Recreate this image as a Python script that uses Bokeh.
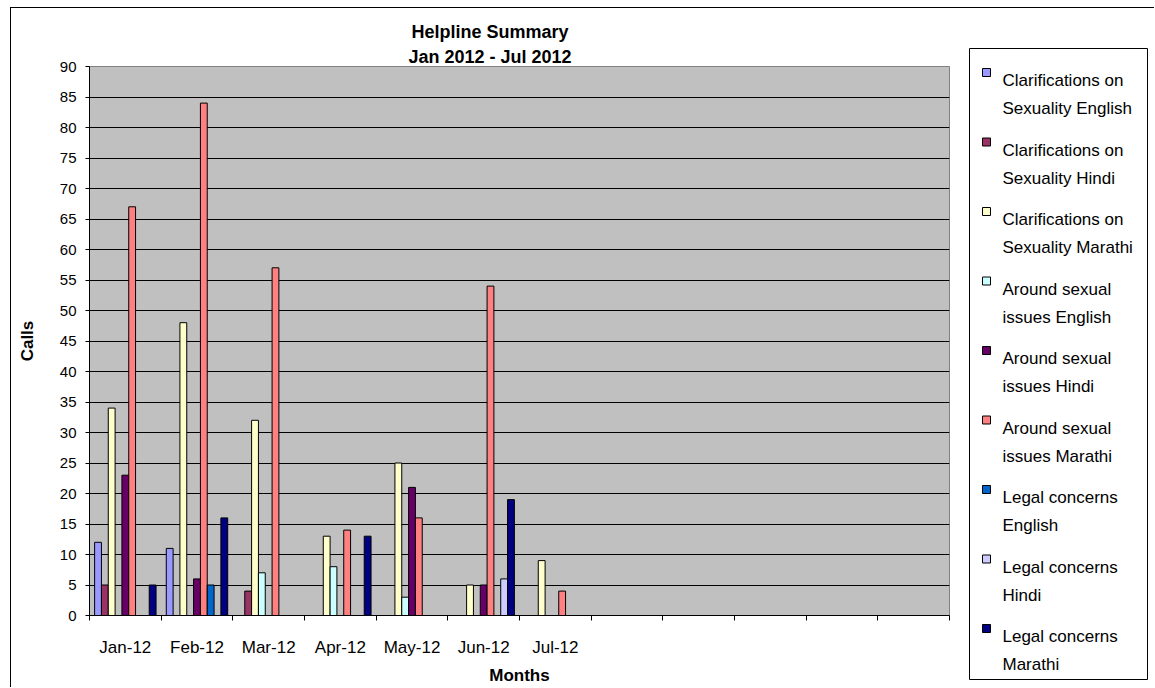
from bokeh.plotting import figure
from bokeh.layouts import row
from bokeh.models import Range1d, FixedTicker, Title
from bokeh.embed import file_html
from bokeh.resources import INLINE
from bokeh.core.properties import value

# ---------------- data ----------------
months = ["Jan-12", "Feb-12", "Mar-12", "Apr-12", "May-12", "Jun-12", "Jul-12"]
n_slots = 12  # category slots on the axis (last five are empty)

clar_english = [12, 11, 0, 0, 0, 0, 0]
clar_hindi = [5, 0, 4, 0, 0, 0, 0]
clar_marathi = [34, 48, 32, 13, 25, 5, 9]
around_english = [0, 0, 7, 8, 3, 0, 0]
around_hindi = [23, 6, 0, 0, 21, 5, 0]
around_marathi = [67, 84, 57, 14, 16, 54, 4]
legal_english = [0, 5, 0, 0, 0, 0, 0]
legal_hindi = [0, 0, 0, 0, 0, 6, 0]
legal_marathi = [5, 16, 0, 13, 0, 19, 0]

legend_line1 = ["Clarifications on", "Clarifications on", "Clarifications on",
                "Around sexual", "Around sexual", "Around sexual",
                "Legal concerns", "Legal concerns", "Legal concerns"]
legend_line2 = ["Sexuality English", "Sexuality Hindi", "Sexuality Marathi",
                "issues English", "issues Hindi", "issues Marathi",
                "English", "Hindi", "Marathi"]
colors = ["#9999FF", "#993366", "#FFFFCC", "#CCFFFF", "#660066",
          "#FF8080", "#0066CC", "#CCCCFF", "#000080"]

series = [clar_english, clar_hindi, clar_marathi, around_english, around_hindi,
          around_marathi, legal_english, legal_hindi, legal_marathi]

title1 = "Helpline Summary"
title2 = "Jan 2012 - Jul 2012"
x_title = "Months"
y_title = "Calls"

FONT = "Liberation Sans"

# ---------------- main chart ----------------
p = figure(width=958, height=679, x_range=Range1d(0, n_slots), y_range=Range1d(0, 90),
           output_backend="svg", toolbar_location=None,
           min_border_left=78, min_border_right=20, min_border_top=58, min_border_bottom=70)
p.frame_align = False
p.background_fill_color = "#C0C0C0"
p.border_fill_color = "white"
p.outline_line_color = "#808080"
p.outline_line_width = 1

n_series = len(series)
gap = 1.5
bw = 1.0 / (n_series + gap)
for j, vals in enumerate(series):
    xs = [i + gap / 2 * bw + (j + 0.5) * bw for i, v in enumerate(vals) if v != 0]
    tops = [v for v in vals if v != 0]
    p.vbar(x=xs, top=tops, bottom=0, width=bw, fill_color=colors[j],
           line_color="black", line_width=1)

# grid
p.xgrid.visible = False
p.ygrid.grid_line_color = "black"
p.ygrid.grid_line_width = 1
p.ygrid.ticker = FixedTicker(ticks=list(range(0, 91, 5)))

# y axis
p.yaxis.ticker = FixedTicker(ticks=list(range(0, 91, 5)))
p.yaxis.major_tick_out = 4
p.yaxis.major_tick_in = 0
p.yaxis.minor_tick_line_color = None
p.yaxis.major_label_standoff = 9
p.yaxis.major_label_text_font = FONT
p.yaxis.major_label_text_font_size = "15px"
p.yaxis.major_label_text_color = "black"
p.yaxis.axis_line_color = "black"
p.yaxis.major_tick_line_color = "black"
p.yaxis.axis_label = y_title
p.yaxis.axis_label_text_font = FONT
p.yaxis.axis_label_text_font_style = "bold"
p.yaxis.axis_label_text_font_size = "17px"
p.yaxis.axis_label_text_color = "black"
p.yaxis.axis_label_standoff = 20

# x axis
centers = [i + 0.5 for i in range(len(months))]
p.xaxis.ticker = FixedTicker(ticks=centers, minor_ticks=list(range(0, n_slots + 1)))
p.xaxis.major_label_overrides = {c: m for c, m in zip(centers, months)}
p.xaxis.major_tick_line_color = None
p.xaxis.major_tick_out = 0
p.xaxis.major_tick_in = 0
p.xaxis.minor_tick_out = 5
p.xaxis.minor_tick_in = 0
p.xaxis.minor_tick_line_color = "black"
p.xaxis.axis_line_color = "black"
p.xaxis.major_label_standoff = 17
p.xaxis.major_label_text_font = FONT
p.xaxis.major_label_text_font_size = "17px"
p.xaxis.major_label_text_color = "black"
p.xaxis.axis_label = x_title
p.xaxis.axis_label_text_font = FONT
p.xaxis.axis_label_text_font_style = "bold"
p.xaxis.axis_label_text_font_size = "17px"
p.xaxis.axis_label_text_color = "black"
p.xaxis.axis_label_standoff = 6

# two-line title (second line nearest the plot)
p.add_layout(Title(text=title2, align="left", offset=319, standoff=0,
                   text_font=FONT, text_font_style="bold", text_font_size="18px",
                   text_color="black"), "above")
p.add_layout(Title(text=title1, align="left", offset=322, standoff=5,
                   text_font=FONT, text_font_style="bold", text_font_size="18px",
                   text_color="black"), "above")

# ---------------- legend panel ----------------
LW, LH = 178, 631
lg = figure(width=LW + 1, height=679, x_range=Range1d(0, LW), y_range=Range1d(0, LH),
            output_backend="svg", toolbar_location=None,
            min_border_left=0, min_border_right=1, min_border_top=40, min_border_bottom=8)
lg.frame_align = False
lg.axis.visible = False
lg.grid.visible = False
lg.outline_line_color = "black"
lg.outline_line_width = 1
lg.background_fill_color = "white"
lg.border_fill_color = "white"

first_sq = 24      # px below legend top for first square centre
step = 69.5
sq_x = 17
txt_x = 33
sq_y = [LH - (first_sq + k * step) for k in range(n_series)]
lg.rect(x=[sq_x] * n_series, y=sq_y, width=8, height=8, fill_color=colors,
        line_color="black", line_width=1)
lg.text(x=[txt_x] * n_series, y=[y - 8 for y in sq_y], text=legend_line1,
        text_baseline="alphabetic", text_font=value(FONT), text_font_size="17px", text_color="black")
lg.text(x=[txt_x] * n_series, y=[y - 36 for y in sq_y], text=legend_line2,
        text_baseline="alphabetic", text_font=value(FONT), text_font_size="17px", text_color="black")

layout = row(p, lg, spacing=0,
             styles={"border-left": "1px solid black", "border-top": "1px solid black",
                     "margin-left": "10px", "margin-top": "7px", "padding-right": "6px"})

open("out.html", "w").write(file_html(layout, INLINE))
